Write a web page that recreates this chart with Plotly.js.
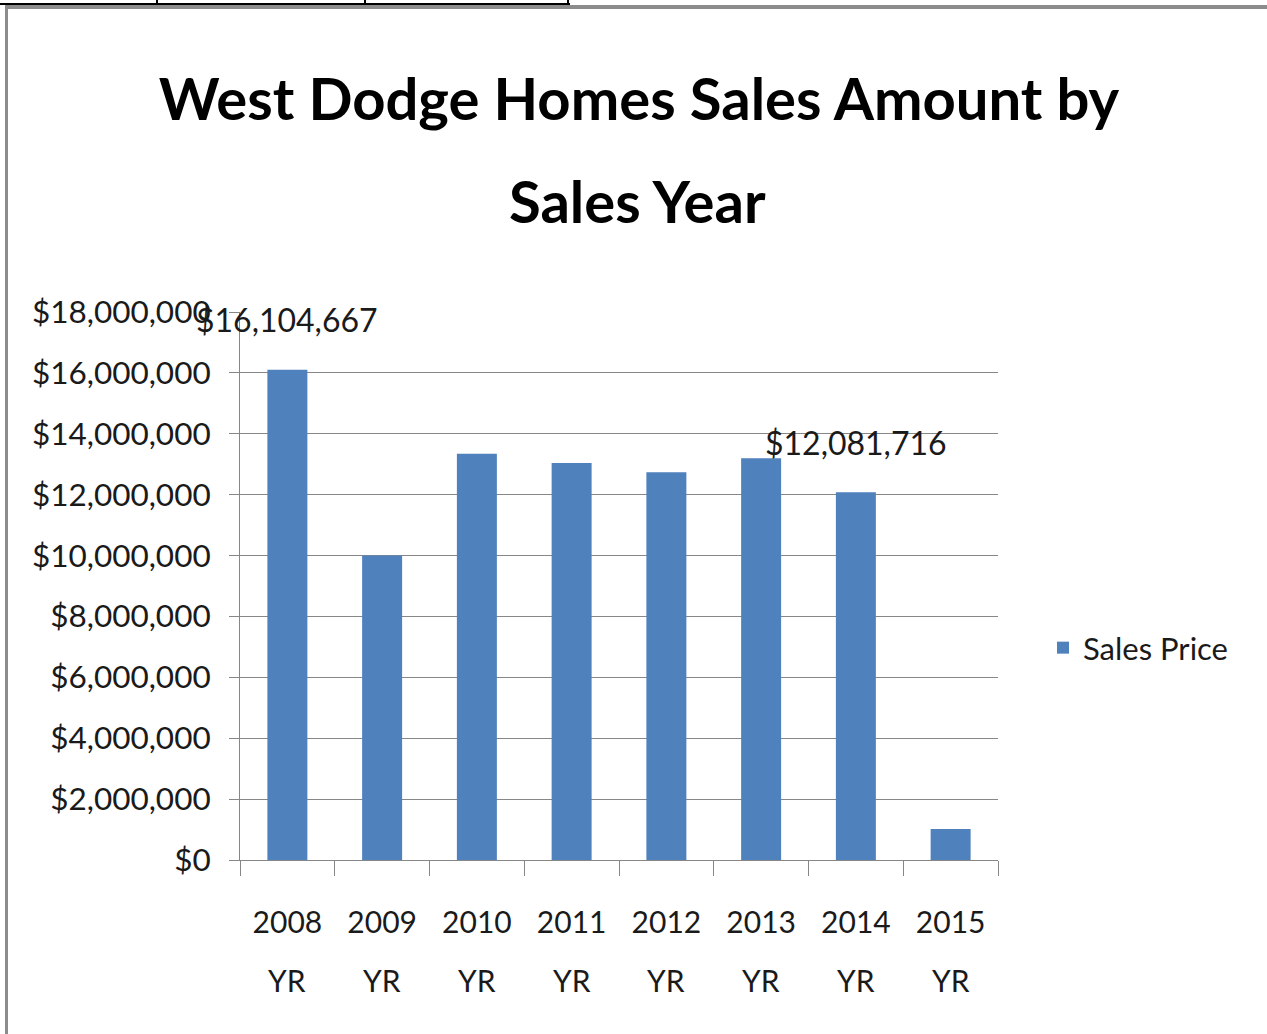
<!DOCTYPE html>
<html>
<head>
<meta charset="utf-8">
<script src="https://cdn.plot.ly/plotly-3.0.1.min.js"></script>
<style>
html, body { margin: 0; padding: 0; background: #fff; }
#chart { width: 1267px; height: 1034px; }
</style>
</head>
<body>
<div id="chart"></div>
<script>
// ---- data ----
var years = ['2008', '2009', '2010', '2011', '2012', '2013', '2014', '2015'];
var yearSuffix = 'YR';
var salesPrice = [16104667, 10000000, 13340000, 13040000, 12740000, 13200000, 12081716, 1020000];
var labelledYears = ['2008', '2014'];
var seriesName = 'Sales Price';
var titleLine1 = 'West Dodge Homes Sales Amount by';
var titleLine2 = 'Sales Year';

// ---- layout constants ----
var W = 1267, H = 1034;
var L = 240, R = 998, T = 312, B = 860;
function px(x) { return (x - L) / (R - L); }
function py(y) { return (B - y) / (B - T); }

var FONT = 'Lato, Open Sans, sans-serif';
var TXT = '#1a1a1a';
var GRID = '#878787';

var cats = years.map(function (y) { return y + ' ' + yearSuffix; });

function money(v) {
  return '$' + Math.round(v).toString().replace(/\B(?=(\d{3})+(?!\d))/g, ',');
}

var trace = {
  type: 'bar',
  x: cats,
  y: salesPrice,
  name: seriesName,
  marker: { color: '#4F81BD', line: { width: 0 } },
  hoverinfo: 'x+y'
};

// value labels above selected bars
var annotations = labelledYears.map(function (yr) {
  var i = years.indexOf(yr);
  return {
    x: cats[i], y: salesPrice[i], xref: 'x', yref: 'y',
    text: money(salesPrice[i]), showarrow: false,
    yanchor: 'middle', yshift: 50,
    font: { family: FONT, size: 32, color: TXT }
  };
});
// second line of each category label ("YR")
cats.forEach(function (c) {
  annotations.push({
    x: c, xref: 'x', y: py(980), yref: 'paper',
    text: yearSuffix, showarrow: false, yanchor: 'middle',
    font: { family: FONT, size: 30, color: TXT }
  });
});
// second line of the title
annotations.push({
  x: px(637), xref: 'paper', y: py(200), yref: 'paper',
  text: titleLine2, showarrow: false, xanchor: 'center', yanchor: 'middle',
  font: { family: FONT, size: 58, color: '#000', weight: 'bold' }
});

var frame = '#8c8c8c';
var shapes = [
  { type: 'line', xref: 'paper', yref: 'paper', x0: px(0), x1: px(570), y0: py(4), y1: py(4), line: { color: '#000', width: 2 } },
  { type: 'line', xref: 'paper', yref: 'paper', x0: px(157), x1: px(157), y0: py(0), y1: py(4), line: { color: '#000', width: 2 } },
  { type: 'line', xref: 'paper', yref: 'paper', x0: px(365), x1: px(365), y0: py(0), y1: py(4), line: { color: '#000', width: 2 } },
  { type: 'line', xref: 'paper', yref: 'paper', x0: px(568), x1: px(568), y0: py(0), y1: py(4), line: { color: '#000', width: 2 } },
  { type: 'line', xref: 'paper', yref: 'paper', x0: px(5), x1: px(1267), y0: py(7), y1: py(7), line: { color: frame, width: 4 } },
  { type: 'line', xref: 'paper', yref: 'paper', x0: px(6.5), x1: px(6.5), y0: py(5), y1: py(1034), line: { color: frame, width: 3 } }
];

var layout = {
  width: W, height: H,
  margin: { l: L, r: W - R, t: T, b: H - B, pad: 0, autoexpand: false },
  paper_bgcolor: '#fff', plot_bgcolor: '#fff',
  title: {
    text: titleLine1,
    x: 639 / W, xanchor: 'center',
    y: 1 - 100 / H, yanchor: 'middle',
    font: { family: FONT, size: 58, color: '#000', weight: 'bold' }
  },
  bargap: 0.578,
  showlegend: true,
  legend: {
    xref: 'container', yref: 'container',
    x: 1043 / W, xanchor: 'left', y: 1 - 648 / H, yanchor: 'middle',
    font: { family: FONT, size: 31, color: TXT },
    bgcolor: 'rgba(0,0,0,0)', itemwidth: 30
  },
  xaxis: {
    type: 'category',
    range: [-0.5, years.length - 0.5],
    tickmode: 'array', tickvals: cats, ticktext: years,
    tickson: 'boundaries',
    ticks: 'outside', ticklen: 15, tickcolor: GRID, tickwidth: 1,
    showline: true, linecolor: GRID, linewidth: 1,
    showgrid: false, zeroline: false,
    tickangle: 0,
    tickfont: { family: FONT, size: 30, color: TXT },
    ticklabelstandoff: 36,
    fixedrange: true
  },
  yaxis: {
    range: [0, 18000000], dtick: 2000000, tick0: 0,
    tickformat: '$,.0f',
    ticks: 'outside', ticklen: 10, tickcolor: GRID, tickwidth: 1,
    showline: true, linecolor: GRID, linewidth: 1,
    showgrid: true, gridcolor: GRID, gridwidth: 1,
    zeroline: false,
    tickfont: { family: FONT, size: 31.5, color: TXT },
    ticklabelstandoff: 12,
    fixedrange: true
  },
  annotations: annotations,
  shapes: shapes
};

Plotly.newPlot('chart', [trace], layout, { displayModeBar: false, staticPlot: true });
</script>
</body>
</html>
